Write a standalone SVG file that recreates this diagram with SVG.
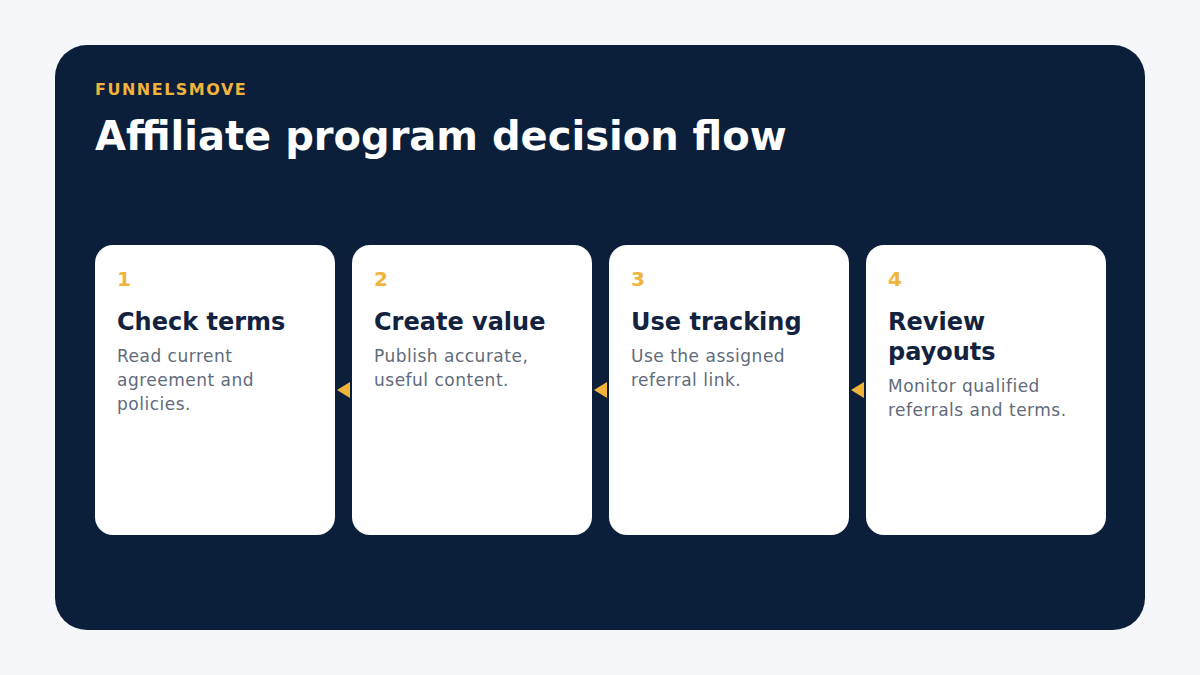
<svg xmlns="http://www.w3.org/2000/svg" width="1200" height="675" viewBox="0 0 1200 675">
<style>
text{font-family:"DejaVu Sans",sans-serif}
.card{fill:#fff}
.num{fill:#f0b43c;font-size:20px;font-weight:bold}
.ttl{fill:#13223f;font-size:24px;font-weight:bold}
.body{fill:#5f6b7a;font-size:17px;letter-spacing:0.5px}
.arr{fill:#f0b43c}
</style>
<rect width="1200" height="675" fill="#f5f7fb"/>
<rect x="55" y="45" width="1090" height="585" rx="32" fill="#0b1f3a"/>
<text x="95" y="95" fill="#f0b43c" font-size="16" font-weight="bold" letter-spacing="1.5">FUNNELSMOVE</text>
<text x="95" y="150" fill="#fff" font-size="40" font-weight="bold">Affiliate program decision flow</text>
<g id="connectors">
<polygon class="arr" points="337,390 350,382 350,398"/>
<polygon class="arr" points="594,390 607,382 607,398"/>
<polygon class="arr" points="851,390 864,382 864,398"/>
</g>
<g id="n1"><rect class="card" x="95" y="245" width="240" height="290" rx="18"/>
<text class="num" x="117" y="286">1</text><text class="ttl" x="117" y="330">Check terms</text>
<text class="body" x="117" y="362">Read current</text><text class="body" x="117" y="386">agreement and</text><text class="body" x="117" y="410">policies.</text></g>
<g id="n2"><rect class="card" x="352" y="245" width="240" height="290" rx="18"/>
<text class="num" x="374" y="286">2</text><text class="ttl" x="374" y="330">Create value</text>
<text class="body" x="374" y="362">Publish accurate,</text><text class="body" x="374" y="386">useful content.</text></g>
<g id="n3"><rect class="card" x="609" y="245" width="240" height="290" rx="18"/>
<text class="num" x="631" y="286">3</text><text class="ttl" x="631" y="330">Use tracking</text>
<text class="body" x="631" y="362">Use the assigned</text><text class="body" x="631" y="386">referral link.</text></g>
<g id="n4"><rect class="card" x="866" y="245" width="240" height="290" rx="18"/>
<text class="num" x="888" y="286">4</text><text class="ttl" x="888" y="330">Review</text><text class="ttl" x="888" y="360">payouts</text>
<text class="body" x="888" y="392">Monitor qualified</text><text class="body" x="888" y="416">referrals and terms.</text></g>
</svg>
